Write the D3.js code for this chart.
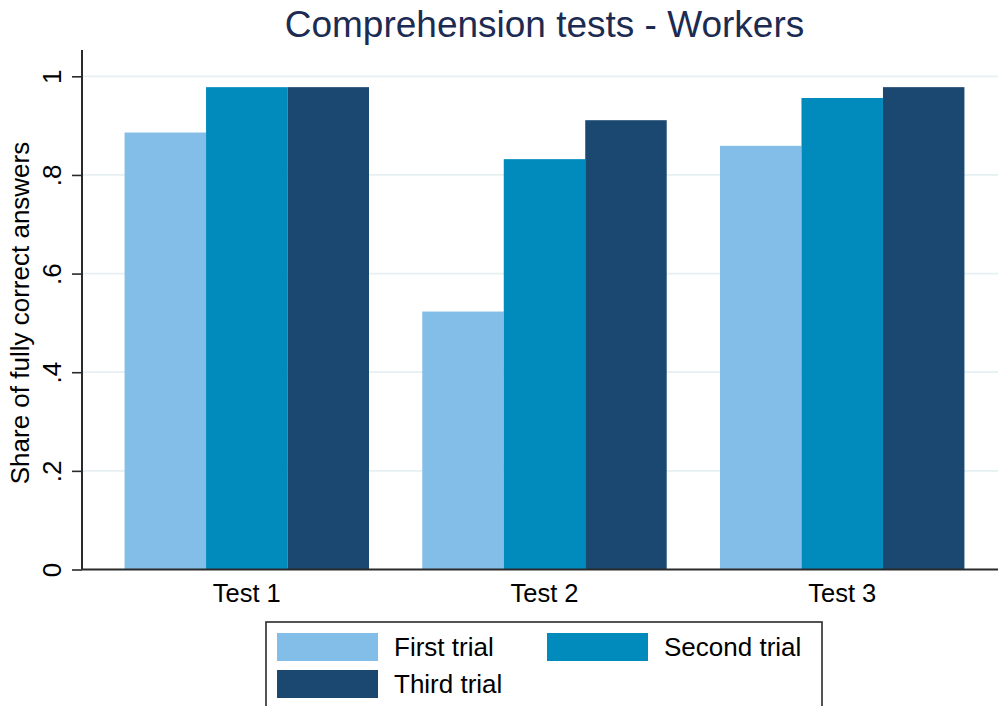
<!DOCTYPE html>
<html>
<head>
<meta charset="utf-8">
<script src="https://cdn.jsdelivr.net/npm/d3@7"></script>
<style>
  html, body { margin: 0; padding: 0; background: #fff; }
  svg { display: block; font-family: "Liberation Sans", Arial, Helvetica, sans-serif; }
</style>
</head>
<body>
<div id="chart"></div>
<script>
// data
const tests = ['Test 1', 'Test 2', 'Test 3'];
const seriesNames = ['First trial', 'Second trial', 'Third trial'];
const firstTrial = [0.886, 0.523, 0.859];
const secondTrial = [0.978, 0.832, 0.956];
const thirdTrial = [0.978, 0.911, 0.978];
const yTicks = [0, 0.2, 0.4, 0.6, 0.8, 1];
const yTickLabels = ['0', '.2', '.4', '.6', '.8', '1'];

const colors = ['#83bee8', '#008bbc', '#1b4870'];
const seriesValues = [firstTrial, secondTrial, thirdTrial];

const width = 998, height = 706;
const svg = d3.select('#chart').append('svg')
    .attr('width', width)
    .attr('height', height);

const x0 = d3.scaleBand()
    .domain(tests)
    .range([82, 1007])
    .paddingInner(0.179)
    .paddingOuter(0.143);

const x1 = d3.scaleBand()
    .domain(seriesNames)
    .range([0, x0.bandwidth()])
    .padding(0);

const y = d3.scaleLinear()
    .domain([0, 1])
    .range([569.5, 76.3]);

// gridlines
svg.append('g')
    .selectAll('line')
    .data(yTicks.filter(d => d > 0))
    .enter()
    .append('line')
    .attr('x1', 82)
    .attr('x2', width)
    .attr('y1', d => y(d))
    .attr('y2', d => y(d))
    .attr('stroke', '#e6eff2')
    .attr('stroke-width', 1.8);

// bars
const rows = tests.map((t, i) => ({
    test: t,
    values: seriesNames.map((s, j) => ({ series: s, value: seriesValues[j][i], color: colors[j] }))
}));

const group = svg.append('g')
    .selectAll('.grp')
    .data(rows)
    .enter()
    .append('g')
    .attr('class', 'grp')
    .attr('transform', d => `translate(${x0(d.test)},0)`);

group.selectAll('rect')
    .data(d => d.values)
    .enter()
    .append('rect')
    .attr('x', d => x1(d.series))
    .attr('width', x1.bandwidth())
    .attr('y', d => y(d.value))
    .attr('height', d => y(0) - y(d.value))
    .attr('fill', d => d.color);

// y axis
const yAxis = d3.axisLeft(y)
    .tickValues(yTicks)
    .tickFormat((d, i) => yTickLabels[i])
    .tickSize(10)
    .tickPadding(0);

const yg = svg.append('g')
    .attr('transform', 'translate(82,0)')
    .call(yAxis);
yg.select('.domain')
    .attr('d', `M0,50V${y(0)}`)
    .attr('stroke', '#2a2a2a')
    .attr('stroke-width', 2);
yg.selectAll('.tick line')
    .attr('stroke', '#2a2a2a')
    .attr('stroke-width', 1.6);
yg.selectAll('.tick text')
    .attr('transform', 'rotate(-90)')
    .attr('x', 0)
    .attr('y', -21)
    .attr('dy', 0)
    .attr('text-anchor', 'middle')
    .attr('fill', '#000')
    .style('font-size', '26px')
    .style('font-family', '"Liberation Sans", Arial, sans-serif');

// x axis
const xAxis = d3.axisBottom(x0)
    .tickSize(0)
    .tickPadding(0);
const xg = svg.append('g')
    .attr('transform', `translate(0,${y(0)})`)
    .call(xAxis);
xg.select('.domain')
    .attr('d', `M82,0H${width}`)
    .attr('stroke', '#2a2a2a')
    .attr('stroke-width', 2);
xg.selectAll('.tick text')
    .attr('y', 32)
    .attr('dy', 0)
    .attr('fill', '#000')
    .style('font-size', '25.5px')
    .style('font-family', '"Liberation Sans", Arial, sans-serif');

// axis title
svg.append('text')
    .attr('transform', 'translate(29,313) rotate(-90)')
    .attr('text-anchor', 'middle')
    .style('font-size', '26px')
    .attr('fill', '#000')
    .text('Share of fully correct answers');

// title
svg.append('text')
    .attr('x', 544.5)
    .attr('y', 37)
    .attr('text-anchor', 'middle')
    .style('font-size', '37px')
    .attr('fill', '#1c2b52')
    .text('Comprehension tests - Workers');

// legend
const legend = svg.append('g');
legend.append('rect')
    .attr('x', 266)
    .attr('y', 622)
    .attr('width', 556)
    .attr('height', 100)
    .attr('fill', '#fff')
    .attr('stroke', '#2a2a2a')
    .attr('stroke-width', 1.6);

const legendPos = [
    { x: 277, y: 633 },
    { x: 547, y: 633 },
    { x: 277, y: 670 }
];

const item = legend.selectAll('.item')
    .data(seriesNames)
    .enter()
    .append('g')
    .attr('class', 'item')
    .attr('transform', (d, i) => `translate(${legendPos[i].x},${legendPos[i].y})`);

item.append('rect')
    .attr('width', 101)
    .attr('height', 28)
    .attr('fill', (d, i) => colors[i]);

item.append('text')
    .attr('x', 117)
    .attr('y', 23)
    .style('font-size', '26px')
    .attr('fill', '#000')
    .text(d => d);
</script>
</body>
</html>
